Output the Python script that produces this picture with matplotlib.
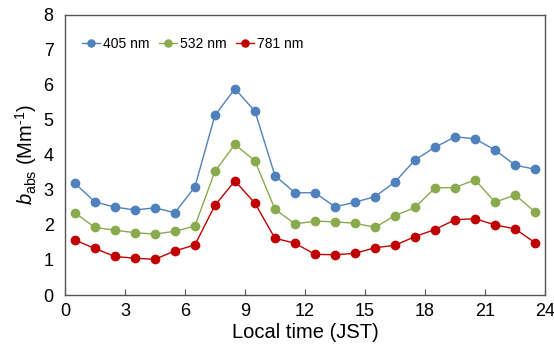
import matplotlib
matplotlib.use('Agg')
from matplotlib import pyplot as plt

plt.rcParams['font.family'] = ['Liberation Sans', 'DejaVu Sans']
plt.rcParams['mathtext.fontset'] = 'custom'
plt.rcParams['mathtext.rm'] = 'Liberation Sans'
plt.rcParams['mathtext.it'] = 'Liberation Sans:italic'

hours = [h + 0.5 for h in range(24)]

b405 = [3.19, 2.66, 2.51, 2.43, 2.49, 2.35, 3.09, 5.13, 5.89, 5.25, 3.41, 2.92,
        2.92, 2.52, 2.65, 2.81, 3.23, 3.86, 4.22, 4.52, 4.46, 4.14, 3.71, 3.59]
b532 = [2.35, 1.93, 1.85, 1.78, 1.74, 1.82, 1.97, 3.53, 4.30, 3.83, 2.45, 2.03,
        2.11, 2.09, 2.05, 1.93, 2.27, 2.50, 3.06, 3.07, 3.29, 2.65, 2.86, 2.37]
b781 = [1.57, 1.33, 1.10, 1.05, 1.02, 1.26, 1.43, 2.56, 3.26, 2.62, 1.62, 1.48,
        1.16, 1.15, 1.19, 1.35, 1.42, 1.67, 1.87, 2.15, 2.18, 2.00, 1.89, 1.49]

series = [('405 nm', b405, '#4F81BD'),
          ('532 nm', b532, '#8AAA4E'),
          ('781 nm', b781, '#C00000')]

fig = plt.figure(figsize=(5.54, 3.55), dpi=100)
ax = fig.add_axes([0.117, 0.169, 0.867, 0.789])

for name, vals, col in series:
    ax.plot(hours, vals, color=col, lw=1.0, marker='o', ms=6, label=name)

ax.set_xlim(0, 24)
ax.set_ylim(0, 8)
ax.set_xticks(range(0, 25, 3))
ax.set_yticks(range(0, 9))
ax.tick_params(axis='x', direction='in', length=4, labelsize=13, pad=6, color='#555555')
ax.tick_params(axis='y', length=0, labelsize=13, pad=8)
for s in ax.spines.values():
    s.set_color('#555555')
    s.set_linewidth(1.0)

ax.set_xlabel('Local time (JST)', fontsize=14.5, labelpad=2)
ax.set_ylabel('$b_{\\mathrm{abs}}$ (Mm$^{\u20101}$)', fontsize=14.5, labelpad=3)

ax.legend(loc='upper left', ncol=3, frameon=False, fontsize=10,
          handlelength=1.3, handletextpad=0.2, columnspacing=0.7,
          markerscale=0.85, bbox_to_anchor=(0.01, 0.965))

fig.savefig('out.png', dpi=100)
